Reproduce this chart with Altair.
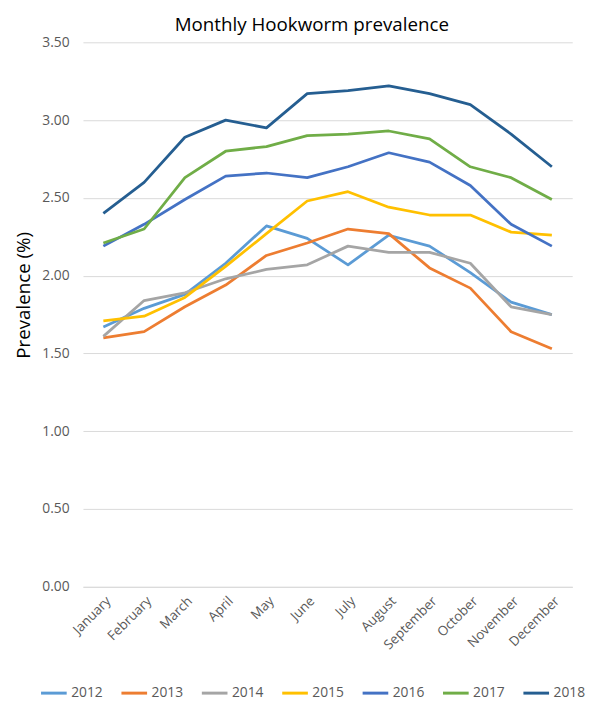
import altair as alt
import pandas as pd

months = ["January", "February", "March", "April", "May", "June", "July",
          "August", "September", "October", "November", "December"]
years = ["2012", "2013", "2014", "2015", "2016", "2017", "2018"]

v2012 = [1.67, 1.79, 1.88, 2.08, 2.32, 2.24, 2.07, 2.26, 2.19, 2.02, 1.83, 1.75]
v2013 = [1.60, 1.64, 1.80, 1.94, 2.13, 2.21, 2.30, 2.27, 2.05, 1.92, 1.64, 1.53]
v2014 = [1.61, 1.84, 1.89, 1.98, 2.04, 2.07, 2.19, 2.15, 2.15, 2.08, 1.80, 1.75]
v2015 = [1.71, 1.74, 1.86, 2.06, 2.27, 2.48, 2.54, 2.44, 2.39, 2.39, 2.28, 2.26]
v2016 = [2.19, 2.33, 2.49, 2.64, 2.66, 2.63, 2.70, 2.79, 2.73, 2.58, 2.33, 2.19]
v2017 = [2.21, 2.30, 2.63, 2.80, 2.83, 2.90, 2.91, 2.93, 2.88, 2.70, 2.63, 2.49]
v2018 = [2.40, 2.60, 2.89, 3.00, 2.95, 3.17, 3.19, 3.22, 3.17, 3.10, 2.91, 2.70]

colors = ["#5B9BD5", "#ED7D31", "#A5A5A5", "#FFC000", "#4472C4", "#70AD47", "#255E91"]

series = [v2012, v2013, v2014, v2015, v2016, v2017, v2018]
rows = []
for y, vals in zip(years, series):
    for m, v in zip(months, vals):
        rows.append({"Month": m, "Year": y, "Prevalence": v})
df = pd.DataFrame(rows)

FONT = "Open Sans"
GREY = "#595959"

chart = alt.Chart(df).mark_line(strokeWidth=2.8, strokeJoin="round").encode(
    x=alt.X("Month:N", sort=months, scale=alt.Scale(paddingInner=0, paddingOuter=0),
            axis=alt.Axis(title=None, labelAngle=-45, labelAlign="right", labelBaseline="top",
                          labelFontSize=13.5, labelColor=GREY, labelFont=FONT,
                          ticks=False, domainColor="#D9D9D9", grid=False,
                          labelPadding=7)),
    y=alt.Y("Prevalence:Q", scale=alt.Scale(domain=[0, 3.5]),
            axis=alt.Axis(title="Prevalence (%)", values=[0, 0.5, 1, 1.5, 2, 2.5, 3, 3.5],
                          format=".2f", titleFontSize=19, titleFont=FONT,
                          titleFontWeight="normal", titleColor="#000000",
                          titleX=-50, titleY=256,
                          labelFontSize=14, labelColor=GREY, labelFont=FONT,
                          ticks=False, domain=False, gridColor="#D9D9D9",
                          labelPadding=14)),
    color=alt.Color("Year:N", scale=alt.Scale(domain=years, range=colors),
                    legend=alt.Legend(title=None, orient="none", direction="horizontal",
                                      legendX=-44, legendY=645,
                                      symbolType="stroke", symbolSize=676,
                                      symbolStrokeWidth=3, labelFontSize=14,
                                      labelFont=FONT, labelColor=GREY,
                                      columnPadding=11.5, labelOffset=3)),
).properties(
    width=496, height=552,
    title=alt.TitleParams("Monthly Hookworm prevalence", fontSize=19, font=FONT,
                          fontWeight="normal", color="#000000", offset=0, dx=-16),
    autosize=alt.AutoSizeParams(type="none"),
    padding={"left": 76, "top": 30, "right": 18, "bottom": 115},
).configure_view(stroke=None)

chart.save("out.html", embed_options={"renderer": "svg", "actions": False})
